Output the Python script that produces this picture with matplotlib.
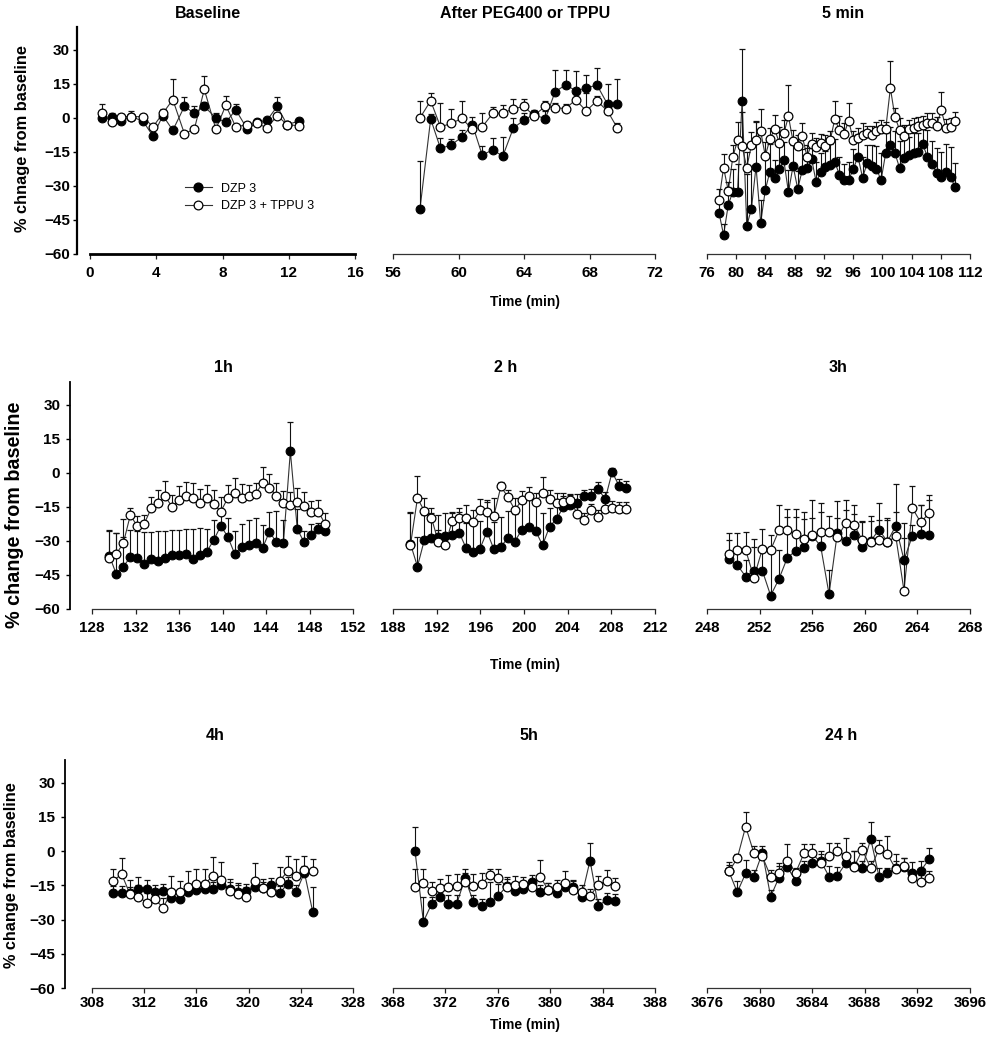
import matplotlib
matplotlib.use('Agg')
import matplotlib.pyplot as plt
from matplotlib.lines import Line2D
import numpy as np

plt.rcParams['font.family'] = ['Liberation Sans', 'DejaVu Sans']
plt.rcParams['font.weight'] = 'bold'

# ---------------- data ----------------
# Baseline
base_t = [0.7, 1.3, 1.9, 2.5, 3.2, 3.8, 4.4, 5.0, 5.7, 6.3, 6.9, 7.6, 8.2, 8.8, 9.5, 10.1, 10.7, 11.3, 11.9, 12.6]
base_dzp = [0, 0.5, -1.5, 0.5, -1.5, -8, 1, -5.5, 5, 2, 5, 0, -2, 3.5, -5, -2, -1, 5, -3, -1.5]
base_dzp_err = [1.5, 1.5, 3, 2.5, 1, 1, 2, 1, 4, 3, 2, 2, 2, 2.5, 1, 1.5, 1, 4, 1, 1.5]
base_tppu = [2, -2, 0.5, 0.5, 0.5, -4, 2, 8, -7, -5, 12.5, -5, 5.5, -4, -3, -2.5, -4.5, 1, -3, -3.5]
base_tppu_err = [4, 1, 1, 1, 1, 1, 2, 9, 1, 1, 6, 1, 4, 1, 1, 1, 1, 1, 1, 1]

# After PEG400 or TPPU
peg_t = [57.65, 58.3, 58.9, 59.55, 60.2, 60.85, 61.45, 62.1, 62.7, 63.35, 64.0, 64.6, 65.3, 65.9, 66.55, 67.15, 67.8, 68.45, 69.1, 69.7]
peg_dzp = [-40, -0.5, -13.5, -12, -8.5, -3, -16.5, -14, -17, -4.5, -1, 1.5, -0.5, 11.5, 14.5, 12, 13, 14.5, 6, 6]
peg_dzp_err = [21, 2, 4.5, 2.5, 3, 3.5, 4, 5, 8.5, 4.5, 3, 2, 3.5, 9.5, 6.5, 8.5, 6, 7.5, 9, 11]
peg_tppu = [0, 7.5, -4, -2.5, -0.3, -5, -4, 2, 2, 4, 5, 1, 5, 4.5, 4, 8, 3, 7.5, 3, -4.5]
peg_tppu_err = [7.5, 3.5, 10.5, 6.5, 7.5, 3, 6, 2.7, 3.7, 4.2, 3.2, 2, 2.6, 2, 2, 2.6, 8, 2, 3, 2]

# 5 min
m5_t = [77.64, 78.27, 78.91, 79.54, 80.18, 80.81, 81.44, 82.08, 82.71, 83.35,
        83.98, 84.61, 85.25, 85.88, 86.52, 87.15, 87.78, 88.42, 89.05, 89.69,
        90.32, 90.95, 91.59, 92.22, 92.86, 93.49, 94.12, 94.76, 95.39, 96.03,
        96.66, 97.29, 97.93, 98.56, 99.20, 99.83, 100.46, 101.10, 101.73, 102.37,
        103.00, 103.63, 104.27, 104.90, 105.54, 106.17, 106.80, 107.44, 108.07, 108.71,
        109.34, 109.97]
m5_dzp = [-41.8, -51.6, -38.4, -32.5, -32.5, 7.6, -47.6, -40.1, -21.5, -46.2,
          -31.8, -23.7, -26.6, -22.6, -18.8, -32.8, -21.2, -31.3, -22.9, -22.2,
          -18.1, -28.5, -23.7, -21.5, -20.7, -19.3, -25.1, -27.4, -27.4, -22.6,
          -17.1, -26.3, -20.0, -21.2, -22.6, -27.4, -15.6, -11.9, -15.6, -22.2,
          -17.9, -16.3, -15.6, -14.9, -11.5, -17.4, -20.3, -24.4, -25.9, -23.7,
          -25.9, -30.7]
m5_dzp_err = [6, 5, 8, 10, 12, 22.7, 23, 18, 20, 10,
              15, 12, 8, 10, 8, 10, 9, 8, 9, 9,
              8, 9, 8, 7, 9, 10, 8, 7, 8, 9,
              10, 9, 8, 9, 10, 12, 9, 8, 10, 12,
              10, 8, 9, 8, 8, 12, 10, 11, 11, 12,
              13, 11]
m5_tppu = [-36.2, -21.9, -32.2, -17.1, -10.0, -12.6, -21.9, -12.1, -9.7, -6.0,
           -16.8, -9.4, -4.9, -10.9, -6.8, 0.6, -10.4, -12.4, -8.2, -17.1,
           -11.5, -12.9, -11.2, -12.4, -10.0, -0.6, -5.3, -7.1, -1.3, -9.7,
           -8.7, -7.5, -6.5, -7.5, -6.0, -5.0, -5.0, 13.1, 0.3, -5.3,
           -8.2, -5.0, -4.3, -3.8, -3.1, -2.1, -2.1, -3.5, 3.5, -4.6,
           -4.1, -1.6]
m5_tppu_err = [5, 6, 4, 5, 8, 15, 7, 6, 8, 10,
               6, 5, 6, 7, 6, 14, 5, 5, 6, 5,
               5, 4, 4, 5, 4, 8, 6, 5, 8, 4,
               4, 5, 3, 4, 4, 4, 3, 12, 4, 5,
               5, 4, 4, 4, 4, 4, 4, 4, 7.7, 4,
               4, 4]

# 1h
h1_t = [129.60, 130.24, 130.88, 131.52, 132.16, 132.80, 133.44, 134.08, 134.72, 135.36,
        136.00, 136.64, 137.28, 137.92, 138.56, 139.20, 139.84, 140.48, 141.12, 141.76,
        142.40, 143.04, 143.68, 144.32, 144.96, 145.60, 146.24, 146.88, 147.52, 148.16,
        148.80, 149.44]
h1_dzp = [-36.6, -44.7, -41.3, -37.2, -37.6, -40.1, -37.9, -38.7, -37.6, -36.2,
          -36.2, -35.7, -37.9, -36.2, -34.7, -29.6, -23.4, -28.1, -35.7, -32.5,
          -31.8, -31.0, -33.2, -25.9, -30.7, -31.0, 9.4, -24.9, -30.7, -27.5,
          -24.9, -25.6]
h1_dzp_err = [11, 18, 13, 12, 12, 14, 12, 13, 12, 11,
              11, 11, 13, 12, 10, 9, 6, 8, 10, 10,
              11, 11, 10, 8.7, 14, 10, 13, 9, 5, 5,
              3, 3]
h1_tppu = [-37.4, -35.7, -31.0, -18.7, -23.4, -22.5, -15.7, -13.4, -10.4, -14.9,
           -11.9, -10.4, -11.2, -13.1, -11.2, -13.7, -17.1, -11.2, -9.0, -10.9,
           -10.4, -9.3, -4.6, -6.5, -10.1, -13.4, -14.4, -12.9, -14.6, -17.4,
           -17.1, -22.5]
h1_tppu_err = [12, 9.4, 10.6, 3, 4.5, 4, 5, 6, 6.7, 5,
               6, 6.5, 6.5, 6, 6, 6, 6.5, 6, 6.5, 6,
               5, 5, 7, 5.8, 5.5, 5.5, 6, 6, 6, 5,
               5, 5]

# 2 h
h2_t = [189.60, 190.24, 190.87, 191.51, 192.15, 192.79, 193.42, 194.06, 194.70, 195.33,
        195.97, 196.61, 197.24, 197.88, 198.52, 199.16, 199.79, 200.43, 201.07, 201.70,
        202.34, 202.98, 203.61, 204.25, 204.89, 205.53, 206.16, 206.80, 207.44, 208.07,
        208.71, 209.35]
h2_dzp = [-31.3, -41.3, -29.6, -28.8, -28.4, -27.8, -27.5, -26.3, -33.2, -34.7,
          -33.4, -25.9, -33.7, -32.5, -28.8, -30.3, -25.1, -24.0, -25.6, -31.9,
          -23.7, -20.3, -15.1, -14.0, -13.4, -10.4, -10.1, -7.2, -11.6, 0.3,
          -5.7, -6.8]
h2_dzp_err = [14, 13, 11, 11, 10, 10, 10, 9, 11, 12,
              12, 13, 12, 13, 12, 12, 13, 13, 13, 14,
              8, 6, 5, 4, 4, 3, 3, 3, 3, 2,
              3, 3]
h2_tppu = [-31.8, -11.2, -16.8, -19.7, -30.3, -31.8, -21.2, -19.7, -20.0, -21.5,
           -16.6, -17.1, -19.0, -6.0, -10.7, -16.3, -12.2, -10.1, -12.9, -9.0,
           -11.6, -13.1, -12.9, -12.2, -18.2, -20.7, -16.6, -19.6, -15.9, -15.3,
           -15.9, -15.9]
h2_tppu_err = [14, 9.6, 5.5, 4, 5, 4.5, 4, 4, 6, 5,
               5, 5, 8, 2, 3, 5, 4, 4, 4, 7,
               4, 4, 4, 3, 3, 3, 3, 3, 3, 3,
               3, 3]

# 3h
h3_t = [249.67, 250.30, 250.94, 251.57, 252.21, 252.84, 253.47, 254.11, 254.74, 255.38,
        256.01, 256.64, 257.28, 257.91, 258.55, 259.18, 259.81, 260.45, 261.08, 261.72,
        262.35, 262.98, 263.62, 264.25, 264.89]
h3_dzp = [-38.1, -40.6, -45.7, -43.1, -43.1, -54.1, -46.8, -37.4, -34.4, -32.5,
          -27.8, -32.2, -53.4, -26.6, -29.9, -27.4, -32.8, -30.0, -25.1, -30.3,
          -23.4, -38.4, -27.8, -27.1, -27.6]
h3_dzp_err = [8.5, 6, 7.5, 10.6, 10, 20, 12.8, 18, 15, 12.2,
              8, 14.8, 10.6, 6.6, 13.6, 9.2, 11.3, 11, 4.4, 10.3,
              18.4, 16.5, 5, 12.7, 15.7]
h3_tppu = [-35.9, -34.0, -34.0, -46.2, -33.5, -34.0, -25.4, -25.1, -27.1, -29.3,
           -27.6, -26.0, -26.2, -28.4, -22.2, -22.9, -29.6, -30.7, -29.6, -30.7,
           -27.8, -51.9, -15.6, -21.8, -17.8]
h3_tppu_err = [9.3, 7.4, 7.8, 17, 8.6, 6.4, 11, 9.2, 11.2, 12.2,
               15.7, 12.6, 7, 16, 10.3, 8.5, 8.4, 9.5, 16.2, 10,
               10.4, 23, 9.9, 7.4, 8.1]

# 4h
h4_t = [309.63, 310.27, 310.90, 311.54, 312.18, 312.81, 313.45, 314.09, 314.73, 315.36,
        316.00, 316.64, 317.27, 317.91, 318.55, 319.18, 319.82, 320.46, 321.09, 321.73,
        322.37, 323.00, 323.64, 324.28, 324.91]
h4_dzp = [-18.4, -18.4, -18.5, -16.5, -16.5, -18.0, -17.6, -20.6, -21.1, -17.7,
          -17.0, -16.7, -16.4, -14.8, -16.4, -17.7, -17.4, -15.8, -16.3, -14.8,
          -18.4, -14.3, -18.0, -9.4, -26.5]
h4_dzp_err = [3, 3, 3, 5, 4, 3, 3, 3, 4, 3,
              3, 3, 3, 3, 3, 3, 3, 3, 3, 3,
              3, 3, 3, 3, 10.7]
h4_tppu = [-13.0, -10.0, -18.7, -19.9, -22.5, -21.1, -24.7, -18.0, -18.0, -15.5,
           -14.3, -14.5, -10.7, -12.6, -17.3, -18.9, -19.9, -13.0, -16.0, -18.1,
           -12.9, -8.9, -10.7, -8.2, -8.9]
h4_tppu_err = [5.2, 7, 6, 5, 4, 4, 4, 7, 5, 6.6,
               6.5, 6.7, 8, 7.8, 5, 5, 4, 7.7, 4, 4,
               6, 7, 7.3, 6.3, 5.5]

# 5h
h5_t = [369.68, 370.32, 370.95, 371.59, 372.22, 372.86, 373.50, 374.13, 374.77, 375.40,
        376.04, 376.68, 377.31, 377.95, 378.58, 379.22, 379.86, 380.49, 381.13, 381.76,
        382.40, 383.04, 383.67, 384.31, 384.95]
h5_dzp = [0.1, -30.9, -23.1, -19.9, -23.3, -23.1, -11.9, -22.1, -24.0, -22.4,
          -19.6, -15.2, -17.3, -16.5, -13.3, -18.0, -17.0, -18.4, -15.5, -15.8,
          -19.9, -4.1, -23.9, -21.4, -21.7]
h5_dzp_err = [10.7, 10.7, 3, 4, 4, 4, 4, 3, 3, 9,
              5, 3, 3, 3, 3, 3, 3, 3, 3, 3,
              3, 7.9, 3, 3, 3]
h5_tppu = [-15.5, -14.1, -17.3, -16.3, -15.5, -15.1, -13.6, -15.1, -14.5, -10.4,
           -11.9, -15.5, -14.8, -14.5, -15.8, -11.1, -17.0, -15.8, -14.1, -17.0,
           -18.0, -19.6, -14.8, -12.9, -15.1]
h5_tppu_err = [7.6, 6.2, 4, 4, 5, 5, 4, 5, 5, 2.5,
               4, 4, 4, 3, 3, 7.3, 3, 3, 5.5, 4,
               3, 3, 4, 4.7, 3.3]

# 24 h
h24_t = [3677.67, 3678.30, 3678.94, 3679.57, 3680.21, 3680.84, 3681.47, 3682.11, 3682.74, 3683.38,
         3684.01, 3684.64, 3685.28, 3685.91, 3686.55, 3687.18, 3687.81, 3688.45, 3689.08, 3689.72,
         3690.35, 3690.98, 3691.62, 3692.25, 3692.89]
h24_dzp = [-8.9, -18.0, -9.7, -11.1, -0.6, -19.9, -11.6, -7.0, -12.9, -7.2,
           -5.3, -4.2, -11.1, -10.8, -5.3, -6.4, -7.5, 5.4, -11.1, -9.7,
           -7.5, -7.0, -9.4, -8.6, -3.5]
h24_dzp_err = [3, 5, 5.9, 3, 3, 3, 6.3, 3, 3, 3,
               3, 3, 4.7, 4, 3, 6.3, 3, 7.2, 3.6, 2.2,
               3, 3.9, 4.6, 4.4, 4.8]
h24_tppu = [-8.9, -3.1, 10.8, -0.9, -2.3, -11.1, -9.4, -4.1, -9.4, -0.9,
            -0.9, -5.0, -2.3, 0.1, -2.0, -7.0, 0.6, -7.5, 0.9, -1.3,
            -7.8, -6.7, -11.9, -13.6, -11.9]
h24_tppu_err = [4.1, 1.9, 6.3, 3.4, 3, 3, 3, 7.2, 2, 4,
                4, 4.9, 5.8, 3.7, 8, 7, 3.2, 3, 4.1, 8,
                6.6, 3.6, 3, 3, 3]

titles = ['Baseline', 'After PEG400 or TPPU', '5 min', '1h', '2 h', '3h', '4h', '5h', '24 h']
xticks_list = [[0, 4, 8, 12, 16], [56, 60, 64, 68, 72], list(range(76, 113, 4)),
               list(range(128, 153, 4)), list(range(188, 213, 4)), list(range(248, 269, 4)),
               list(range(308, 329, 4)), list(range(368, 389, 4)), list(range(3676, 3697, 4))]
yticks = [-60, -45, -30, -15, 0, 15, 30]
legend_labels = ['DZP 3', 'DZP 3 + TPPU 3']
ylabels = ['% chnage from baseline', '% change from baseline', '% change from baseline']
xlabel = 'Time (min)'

series = [
    (base_t, base_dzp, base_dzp_err, base_tppu, base_tppu_err),
    (peg_t, peg_dzp, peg_dzp_err, peg_tppu, peg_tppu_err),
    (m5_t, m5_dzp, m5_dzp_err, m5_tppu, m5_tppu_err),
    (h1_t, h1_dzp, h1_dzp_err, h1_tppu, h1_tppu_err),
    (h2_t, h2_dzp, h2_dzp_err, h2_tppu, h2_tppu_err),
    (h3_t, h3_dzp, h3_dzp_err, h3_tppu, h3_tppu_err),
    (h4_t, h4_dzp, h4_dzp_err, h4_tppu, h4_tppu_err),
    (h5_t, h5_dzp, h5_dzp_err, h5_tppu, h5_tppu_err),
    (h24_t, h24_dzp, h24_dzp_err, h24_tppu, h24_tppu_err),
]

# ---------------- layout ----------------
W, H = 986, 1050
fig = plt.figure(figsize=(W / 100, H / 100), dpi=100)

col_px = [[(90, 355), (393, 655), (707, 970)],
          [(92, 353), (393, 655), (707, 970)],
          [(92, 353), (393, 655), (707, 970)]]
row_px = [(27, 254), (382, 609), (760, 988)]
yspine_off = [13, 22, 27]        # px
title_pos = [[(208, 14), (525, 14), (843, 14)],
             [(223, 367), (506, 367), (838, 367)],
             [(215, 735), (529, 735), (841, 735)]]
ylabel_pos = [(23, 139, 11.8), (15, 515, 14.2), (12, 875, 11.7)]
xlabel_y = [302, 665, 1025]
xtick_pad = [5, 5, 2.5]

MS = 6.3
for i, (t, dzp, dzp_err, tppu, tppu_err) in enumerate(series):
    r, c = divmod(i, 3)
    x0, x1 = col_px[r][c]
    y0, y1 = row_px[r]
    ax = fig.add_axes([x0 / W, 1 - y1 / H, (x1 - x0) / W, (y1 - y0) / H])
    ax.patch.set_alpha(0)

    dzp_err_arr = np.asarray(dzp_err, float)
    tppu_err_arr = np.asarray(tppu_err, float)
    # connecting lines
    ax.plot(t, dzp, '-', color='#333333', lw=0.8, zorder=1)
    ax.plot(t, tppu, '-', color='#333333', lw=0.8, zorder=1)
    # one-sided (upper) error bars
    ax.errorbar(t, dzp, yerr=[np.zeros_like(dzp_err_arr), dzp_err_arr], fmt='none',
                ecolor='#111111', elinewidth=0.8, capsize=2.2, capthick=0.9, zorder=2)
    ax.errorbar(t, tppu, yerr=[np.zeros_like(tppu_err_arr), tppu_err_arr], fmt='none',
                ecolor='#111111', elinewidth=0.8, capsize=2.2, capthick=0.9, zorder=2)
    ax.plot(t, dzp, 'o', ms=MS, mfc='black', mec='black', mew=0.8, zorder=3)
    ax.plot(t, tppu, 'o', ms=MS, mfc='white', mec='black', mew=0.9, zorder=4)

    xt = xticks_list[i]
    ax.set_xlim(xt[0], xt[-1])
    ax.set_ylim(-60, 40)
    ax.set_xticks(xt)
    ax.ticklabel_format(axis='x', useOffset=False, style='plain')
    ax.spines['top'].set_visible(False)
    ax.spines['right'].set_visible(False)
    ax.tick_params(axis='x', direction='out', length=3.5, width=0.9, pad=xtick_pad[r],
                   labelsize=11 if r < 2 else 10.8, color='#222222')
    if c == 0:
        ax.set_yticks(yticks)
        ax.spines['left'].set_position(('outward', yspine_off[r] * 0.72))
        ax.spines['left'].set_linewidth(1.6 if r == 0 else 1.3)
        ax.tick_params(axis='y', direction='out', length=3, width=1.0,
                       pad=2 if r == 0 else 4, labelsize=11)
    else:
        ax.spines['left'].set_visible(False)
        ax.tick_params(axis='y', left=False, labelleft=False)
    ax.spines['bottom'].set_linewidth(2.0 if i == 0 else 0.9)
    ax.spines['bottom'].set_color('black' if i == 0 else '#333333')

    tx, ty = title_pos[r][c]
    fig.text(tx / W, 1 - ty / H, titles[i], ha='center', va='center',
             fontsize=11.5, fontweight='bold')

    if i == 0:
        handles = [Line2D([0], [0], color='#333333', lw=0.8, marker='o', ms=MS,
                          mfc='black', mec='black'),
                   Line2D([0], [0], color='#333333', lw=0.8, marker='o', ms=MS,
                          mfc='white', mec='black', mew=0.9)]
        ax.legend(handles, legend_labels, loc='center left',
                  bbox_to_anchor=(185 / W, 1 - 197.5 / H), bbox_transform=fig.transFigure,
                  frameon=False, handlelength=2.15, handletextpad=0.75,
                  labelspacing=0.45, borderpad=0, borderaxespad=0,
                  prop={'size': 9, 'weight': 'normal'})

for r in range(3):
    lx, ly, fs = ylabel_pos[r]
    fig.text(lx / W, 1 - ly / H, ylabels[r], rotation=90, ha='center', va='center',
             fontsize=fs, fontweight='bold')
    fig.text(525 / W, 1 - xlabel_y[r] / H, xlabel, ha='center', va='center',
             fontsize=10, fontweight='bold')

fig.savefig('out.png', dpi=100)
